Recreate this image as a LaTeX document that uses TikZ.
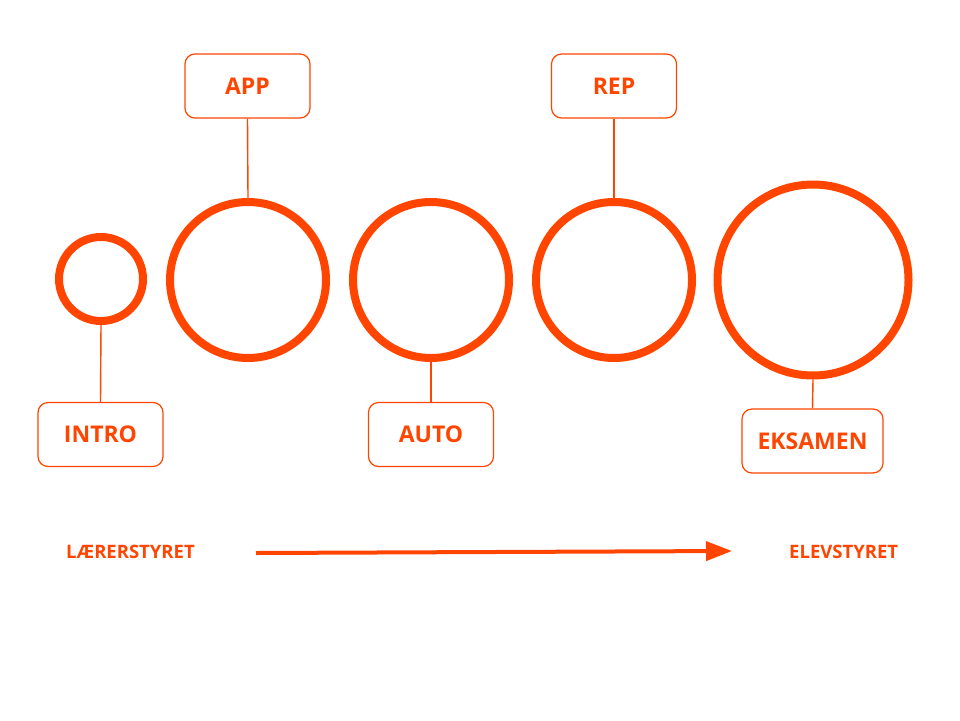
\documentclass[tikz,border=0pt]{standalone}
\usepackage{fontspec}
\setmainfont{Open Sans}
\usetikzlibrary{arrows.meta}
\definecolor{acc}{HTML}{FF4500}
\begin{document}
\begin{tikzpicture}[x=1pt,y=-1pt,
  ring/.style={circle,draw=acc,line width=8pt,inner sep=0pt},
  lbl/.style={draw=acc,line width=1.2pt,rounded corners=10pt,minimum height=64pt,
    text=acc,font=\fontsize{23}{25}\selectfont\bfseries,inner sep=0pt},
  link/.style={draw=acc,line width=1.4pt},
  side/.style={text=acc,font=\fontsize{18.5}{20}\selectfont\bfseries,inner sep=0pt}]
\useasboundingbox (0,0) rectangle (960,720);
% circles
\node[ring,minimum size=84pt] (c1) at (101,279) {};
\node[ring,minimum size=156pt] (c2) at (248,280) {};
\node[ring,minimum size=156pt] (c3) at (431,280) {};
\node[ring,minimum size=156pt] (c4) at (614,280) {};
\node[ring,minimum size=191pt] (c5) at (813,280) {};
% boxes
\node[lbl,minimum width=125pt] (app) at (247.5,86) {APP};
\node[lbl,minimum width=125pt] (rep) at (614,86) {REP};
\node[lbl,minimum width=125pt] (intro) at (100.5,434.5) {INTRO};
\node[lbl,minimum width=125pt] (auto) at (431,434.5) {AUTO};
\node[lbl,minimum width=141pt] (eks) at (812.5,441) {EKSAMEN};
% links
\draw[link] (app.south) -- (c2.north);
\draw[link] (rep.south) -- (c4.north);
\draw[link] (c1.south) -- (intro.north);
\draw[link] (c3.south) -- (auto.north);
\draw[link] (c5.south) -- (eks.north);
% bottom
\node[side,anchor=west] (l) at (66,552) {LÆRERSTYRET};
\node[side,anchor=west] (r) at (789,552) {ELEVSTYRET};
\coordinate (a0) at (256,553);
\coordinate (a1) at (732,551);
\draw[acc,line width=4pt,-{Triangle[length=26pt,width=19pt]}] (a0) -- (a1);
\end{tikzpicture}
\end{document}
